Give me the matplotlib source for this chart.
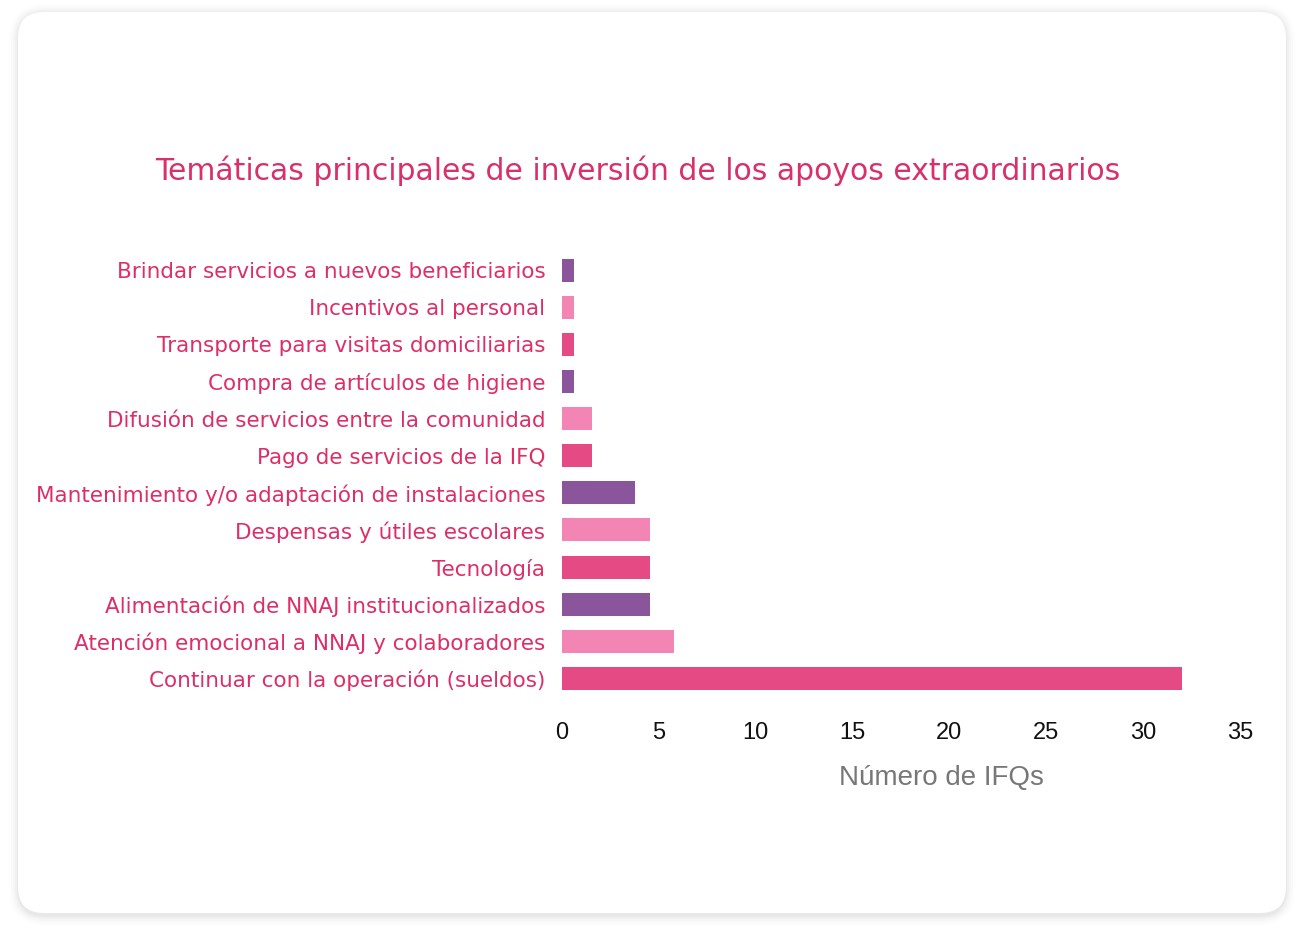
import matplotlib
matplotlib.use("Agg")

import matplotlib.pyplot as plt
from matplotlib.patches import FancyBboxPatch
from matplotlib.transforms import IdentityTransform

plt.rcParams["font.family"] = ["DejaVu Sans"]

categories = [
    "Brindar servicios a nuevos beneficiarios",
    "Incentivos al personal",
    "Transporte para visitas domiciliarias",
    "Compra de artículos de higiene",
    "Difusión de servicios entre la comunidad",
    "Pago de servicios de la IFQ",
    "Mantenimiento y/o adaptación de instalaciones",
    "Despensas y útiles escolares",
    "Tecnología",
    "Alimentación de NNAJ institucionalizados",
    "Atención emocional a NNAJ y colaboradores",
    "Continuar con la operación (sueldos)",
]
values = [0.6, 0.6, 0.6, 0.6, 1.55, 1.55, 3.75, 4.55, 4.55, 4.55, 5.8, 32]
xticks = [0, 5, 10, 15, 20, 25, 30, 35]

palette = ["#8B559C", "#F285B4", "#E54A84"]
label_color = "#DD2F66"
title_color = "#D9306A"

fig = plt.figure(figsize=(13.04, 9.38), dpi=100)
fig.patch.set_facecolor("white")

# card with soft shadow (pixel coordinates)
W, H = 1304, 938
x0, y0, x1, y1 = 18, H - 913, 1286, H - 12
for i, a in enumerate([0.03, 0.022, 0.016, 0.011, 0.007]):
    g = 2 + i * 2
    sh = FancyBboxPatch((x0 - g + 1, y0 - g - 2), (x1 - x0) + 2 * g - 2, (y1 - y0) + 2 * g,
                        boxstyle=f"round,pad=0,rounding_size={26 + g}",
                        transform=IdentityTransform(), facecolor="black",
                        edgecolor="none", alpha=a, zorder=0)
    fig.patches.append(sh)
card = FancyBboxPatch((x0, y0), x1 - x0, y1 - y0,
                      boxstyle="round,pad=0,rounding_size=26",
                      transform=IdentityTransform(), facecolor="white",
                      edgecolor="none", zorder=1)
fig.patches.append(card)

ax = fig.add_axes([562 / W, 1 - 697 / H, (1240 - 562) / W, (697 - 251.5) / H])
ax.set_facecolor("none")
ax.set_zorder(2)

ypos = list(range(len(categories)))[::-1]
colors = [palette[i % 3] for i in range(len(categories))]
ax.barh(ypos, values, height=0.62, color=colors, zorder=3)

ax.set_xlim(0, 35)
ax.set_ylim(-0.5, len(categories) - 0.5)
ax.set_yticks(ypos)
ax.set_yticklabels(categories, fontsize=15.5, color=label_color)
ax.set_xticks(xticks)
ax.set_xticklabels([str(t) for t in xticks], fontsize=17, color="#111111",
                   family="Liberation Sans")
ax.tick_params(axis="y", length=0, pad=12)
ax.tick_params(axis="x", length=0, pad=18)

ax.set_xlabel("Número de IFQs", fontsize=20, color="#777777", family="Liberation Sans")
ax.xaxis.label.set_va("center")
ax.xaxis.set_label_coords(0.559, -0.182)

for s in ax.spines.values():
    s.set_visible(False)

fig.text(638 / W, 1 - 171 / H,
         "Temáticas principales de inversión de los apoyos extraordinarios",
         fontsize=21.5, color=title_color, ha="center", va="center", zorder=5)

fig.savefig("out.png", dpi=100, facecolor="white")
